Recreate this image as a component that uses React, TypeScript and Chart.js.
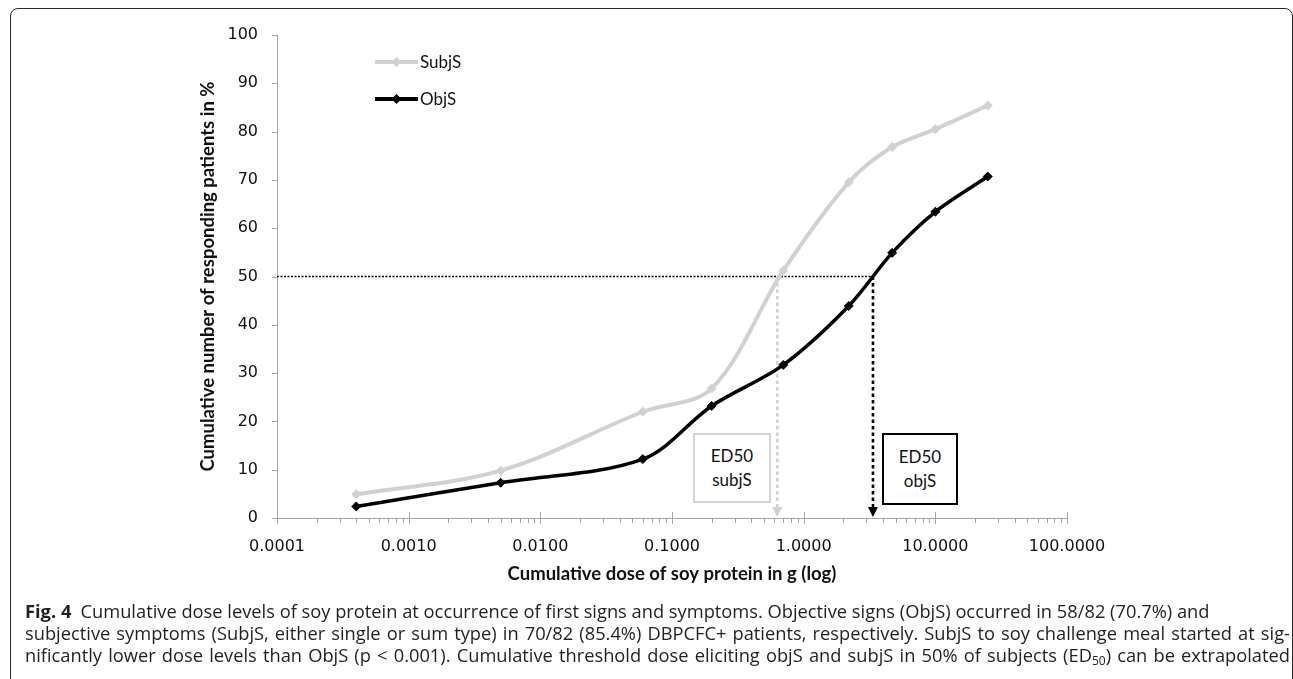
import React, { useEffect, useRef } from "react";
import { Chart, registerables } from "chart.js";

Chart.register(...registerables);

// ---- data ----
const doses = [0.0004, 0.005, 0.06, 0.2, 0.7, 2.2, 4.7, 10, 25];
const subjS = [4.9, 9.8, 22.0, 26.8, 51.2, 69.5, 76.8, 80.5, 85.4];
const objS = [2.4, 7.3, 12.2, 23.2, 31.7, 43.9, 54.9, 63.4, 70.7];
const seriesLabels = ["SubjS", "ObjS"];
const xTickValues = [0.0001, 0.001, 0.01, 0.1, 1, 10, 100];
const minorMultipliers = [2, 3, 4, 5, 6, 7, 8, 9];
const yMax = 100;
const yStep = 10;
const ed50Level = 50;
const ed50Subj = 0.63;
const ed50Obj = 3.36;
const xTitle = "Cumulative dose of soy protein in g (log)";
const yTitle = "Cumulative number of responding patients in %";

const GRAY = "#D0D2D0";
const BLACK = "#000000";
const AXIS = "#A6A6A6";

const annotationPlugin = {
  id: "annotations",
  beforeDatasetsDraw(chart: any) {
    const { ctx } = chart;
    const xs = chart.scales.x;
    const ys = chart.scales.y;
    const y50 = ys.getPixelForValue(ed50Level);
    const y0 = ys.getPixelForValue(0);
    const xs0 = xs.getPixelForValue(xTickValues[0]);
    const xSubj = xs.getPixelForValue(ed50Subj);
    const xObj = xs.getPixelForValue(ed50Obj);
    ctx.save();
    ctx.strokeStyle = BLACK;
    ctx.lineWidth = 1.6;
    ctx.setLineDash([2, 1.5]);
    ctx.beginPath();
    ctx.moveTo(xs0, y50);
    ctx.lineTo(xObj, y50);
    ctx.stroke();
    const drawV = (x: number, color: string) => {
      ctx.strokeStyle = color;
      ctx.lineWidth = 2.6;
      ctx.setLineDash([3.5, 3]);
      ctx.beginPath();
      ctx.moveTo(x, y50);
      ctx.lineTo(x, y0 - 9);
      ctx.stroke();
      ctx.setLineDash([]);
      ctx.fillStyle = color;
      ctx.beginPath();
      ctx.moveTo(x - 5, y0 - 11);
      ctx.lineTo(x + 5, y0 - 11);
      ctx.lineTo(x, y0 - 1);
      ctx.closePath();
      ctx.fill();
    };
    drawV(xSubj, GRAY);
    drawV(xObj, BLACK);
    ctx.restore();
  },
  afterDraw(chart: any) {
    const { ctx } = chart;
    const xs = chart.scales.x;
    const ys = chart.scales.y;
    const y0 = ys.getPixelForValue(0);
    const left = xs.getPixelForValue(xTickValues[0]);
    ctx.save();
    ctx.strokeStyle = AXIS;
    ctx.lineWidth = 1;
    for (let i = 0; i < xTickValues.length; i++) {
      const v = xTickValues[i];
      const px = Math.round(xs.getPixelForValue(v)) + 0.5;
      ctx.beginPath();
      ctx.moveTo(px, y0 - 6);
      ctx.lineTo(px, y0 + 6);
      ctx.stroke();
      if (i < xTickValues.length - 1) {
        for (const m of minorMultipliers) {
          const mpx = Math.round(xs.getPixelForValue(v * m)) + 0.5;
          ctx.beginPath();
          ctx.moveTo(mpx, y0);
          ctx.lineTo(mpx, y0 + 5);
          ctx.stroke();
        }
      }
    }
    for (let v = 0; v <= yMax; v += yStep) {
      const py = Math.round(ys.getPixelForValue(v)) + 0.5;
      ctx.beginPath();
      ctx.moveTo(left - 5, py);
      ctx.lineTo(left, py);
      ctx.stroke();
    }
    const items = [
      { label: seriesLabels[0], color: GRAY, y: 62 },
      { label: seriesLabels[1], color: BLACK, y: 99 },
    ];
    for (const it of items) {
      ctx.strokeStyle = it.color;
      ctx.lineWidth = 4;
      ctx.beginPath();
      ctx.moveTo(375, it.y);
      ctx.lineTo(418, it.y);
      ctx.stroke();
      ctx.fillStyle = it.color;
      ctx.beginPath();
      ctx.moveTo(396.5, it.y - 5);
      ctx.lineTo(401.5, it.y);
      ctx.lineTo(396.5, it.y + 5);
      ctx.lineTo(391.5, it.y);
      ctx.closePath();
      ctx.fill();
      ctx.fillStyle = "#111";
      ctx.font = '17px "Lato"';
      ctx.textBaseline = "middle";
      ctx.textAlign = "left";
      ctx.fillText(it.label, 420, it.y + 1);
    }
    ctx.restore();
  },
};

export default function App() {
  const ref = useRef<HTMLCanvasElement | null>(null);

  useEffect(() => {
    if (!ref.current) return;
    const mkData = (vals: number[]) => doses.map((d, i) => ({ x: d, y: vals[i] }));
    const chart = new Chart(ref.current, {
      type: "line",
      data: {
        datasets: [
          {
            label: seriesLabels[0],
            data: mkData(subjS),
            borderColor: GRAY,
            backgroundColor: GRAY,
            pointBackgroundColor: GRAY,
            pointBorderColor: GRAY,
            borderWidth: 4,
            pointStyle: "rectRot",
            pointRadius: 4.5,
            pointBorderWidth: 1,
            tension: 0.33,
            fill: false,
          },
          {
            label: seriesLabels[1],
            data: mkData(objS),
            borderColor: BLACK,
            backgroundColor: BLACK,
            pointBackgroundColor: BLACK,
            pointBorderColor: BLACK,
            borderWidth: 3.5,
            pointStyle: "rectRot",
            pointRadius: 4.5,
            pointBorderWidth: 1,
            tension: 0.33,
            fill: false,
          },
        ],
      },
      options: {
        animation: false,
        responsive: false,
        maintainAspectRatio: false,
        layout: { padding: { left: 190, top: 35, right: 226, bottom: 0 } },
        plugins: {
          legend: { display: false },
          tooltip: { enabled: false },
          title: { display: false },
        },
        scales: {
          x: {
            type: "logarithmic",
            min: xTickValues[0],
            max: xTickValues[xTickValues.length - 1],
            afterBuildTicks: (scale: any) => {
              scale.ticks = xTickValues.map((v) => ({ value: v, major: true }));
            },
            afterFit: (scale: any) => {
              scale.height = 82;
            },
            grid: { display: false, drawTicks: false, tickLength: 0 },
            border: { display: true, color: AXIS, width: 1 },
            ticks: {
              autoSkip: false,
              maxRotation: 0,
              padding: 19,
              color: "#111",
              font: { family: '"DejaVu Sans"', size: 16 },
              callback: (v: any) => Number(v).toFixed(4),
            },
            title: {
              display: true,
              text: xTitle,
              color: "#111",
              font: { family: '"Lato"', size: 18.5, weight: "bold" },
              padding: { top: 0, bottom: 15 },
            },
          },
          y: {
            type: "linear",
            min: 0,
            max: yMax,
            afterFit: (scale: any) => {
              scale.width = 87;
            },
            grid: { display: false, drawTicks: false, tickLength: 0 },
            border: { display: true, color: AXIS, width: 1 },
            ticks: {
              stepSize: yStep,
              padding: 19,
              color: "#111",
              font: { family: '"DejaVu Sans"', size: 16 },
            },
            title: {
              display: true,
              text: yTitle,
              color: "#111",
              font: { family: '"Lato"', size: 18.5, weight: "bold" },
              padding: { top: 7, bottom: 0 },
            },
          },
        },
      },
      plugins: [annotationPlugin],
    });
    return () => chart.destroy();
  }, []);

  const boxText: React.CSSProperties = {
    position: "absolute",
    boxSizing: "border-box",
    background: "#fff",
    display: "flex",
    flexDirection: "column",
    alignItems: "center",
    justifyContent: "center",
    font: '17px "Lato"',
    lineHeight: "24px",
    color: "#111",
  };

  const lineStyle: React.CSSProperties = { whiteSpace: "nowrap", textAlign: "justify", textAlignLast: "justify" };

  return (
    <div style={{ position: "absolute", left: 0, top: 0, width: 1293, height: 679, overflow: "hidden", background: "#fff" }}>
      <div
        style={{
          position: "absolute",
          left: 10,
          top: 8,
          width: 1283,
          height: 690,
          boxSizing: "border-box",
          border: "1.3px solid #2a2a2a",
          borderRadius: 8,
        }}
      />
      <canvas ref={ref} width={1293} height={600} style={{ position: "absolute", left: 0, top: 0, display: "block" }} />
      <div style={{ ...boxText, left: 693, top: 433, width: 78, height: 70, border: `2.5px solid ${GRAY}` }}>
        <div>ED50</div>
        <div>subjS</div>
      </div>
      <div style={{ ...boxText, left: 882, top: 433, width: 76, height: 72, border: "2.5px solid #000" }}>
        <div>ED50</div>
        <div>objS</div>
      </div>
      <div
        style={{
          position: "absolute",
          left: 25,
          top: 600,
          width: 1265,
          font: '18.3px "Open Sans"',
          lineHeight: "22px",
          color: "#231f20",
        }}
      >
        <div style={{ whiteSpace: "nowrap" }}>
          <b>Fig. 4</b>
          {"\u2002"}Cumulative dose levels of soy protein at occurrence of first signs and symptoms. Objective signs (ObjS) occurred in 58/82 (70.7%) and
        </div>
        <div style={lineStyle}>
          subjective symptoms (SubjS, either single or sum type) in 70/82 (85.4%) DBPCFC+ patients, respectively. SubjS to soy challenge meal started at sig-
        </div>
        <div style={lineStyle}>
          nificantly lower dose levels than ObjS (p &lt; 0.001). Cumulative threshold dose eliciting objS and subjS in 50% of subjects (ED
          <sub style={{ fontSize: 12, verticalAlign: "-3px", lineHeight: 0 }}>50</sub>) can be extrapolated
        </div>
      </div>
    </div>
  );
}
